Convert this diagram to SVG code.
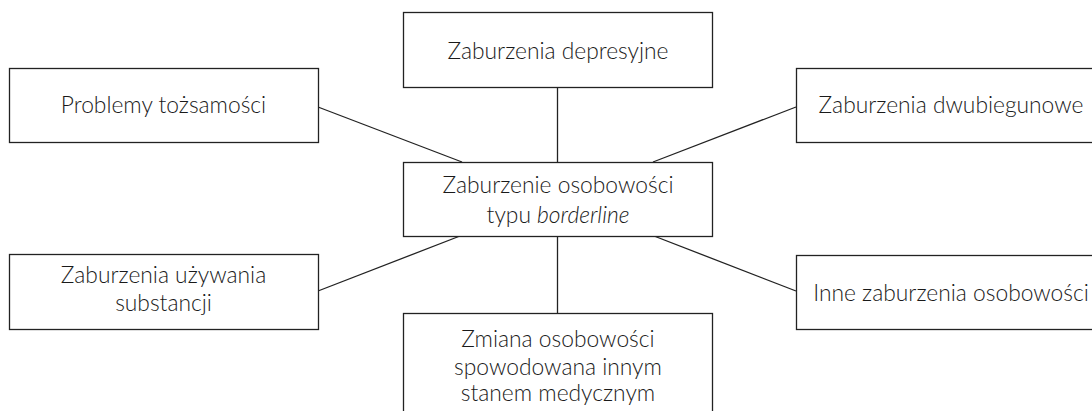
<svg xmlns="http://www.w3.org/2000/svg" width="1092" height="411" viewBox="0 0 1092 411">
<style>
.box{fill:#fff;stroke:#222;stroke-width:1.3}
.t{font-family:Lato,"Noto Sans",sans-serif;font-weight:300;font-size:22.8px;fill:#1a1a1a;text-anchor:middle}
.c{stroke:#222;stroke-width:1.3;fill:none}
</style>
<rect width="1092" height="411" fill="#fff"/>
<g id="connectors">
<line class="c" x1="557.5" y1="87" x2="557.5" y2="162"/>
<line class="c" x1="557.5" y1="236" x2="557.5" y2="313"/>
<line class="c" x1="318" y1="107" x2="462" y2="162"/>
<line class="c" x1="796" y1="107" x2="653" y2="162"/>
<line class="c" x1="318" y1="291" x2="460" y2="236"/>
<line class="c" x1="796" y1="291" x2="654" y2="236"/>
</g>
<g id="n-depresyjne"><rect class="box" x="403.5" y="12.5" width="309" height="75"/><text class="t" x="558" y="59">Zaburzenia depresyjne</text></g>
<g id="n-tozsamosc"><rect class="box" x="9.5" y="68.5" width="309" height="74"/><text class="t" x="163.5" y="113">Problemy tożsamości</text></g>
<g id="n-dwubiegunowe"><rect class="box" x="796.5" y="68.5" width="309" height="74"/><text class="t" x="951" y="113">Zaburzenia dwubiegunowe</text></g>
<g id="n-borderline"><rect class="box" x="403.5" y="162.5" width="309" height="74"/><text class="t" x="558" y="193">Zaburzenie osobowości</text><text class="t" x="558" y="223">typu <tspan font-style="italic">borderline</tspan></text></g>
<g id="n-substancje"><rect class="box" x="9.5" y="254.5" width="309" height="75"/><text class="t" x="163.5" y="283">Zaburzenia używania</text><text class="t" x="163.5" y="311">substancji</text></g>
<g id="n-inne"><rect class="box" x="796.5" y="255.5" width="309" height="74"/><text class="t" x="951" y="301">Inne zaburzenia osobowości</text></g>
<g id="n-zmiana"><rect class="box" x="403.5" y="313.5" width="309" height="110"/><text class="t" x="558" y="347">Zmiana osobowości</text><text class="t" x="558" y="375">spowodowana innym</text><text class="t" x="558" y="401">stanem medycznym</text></g>
</svg>
